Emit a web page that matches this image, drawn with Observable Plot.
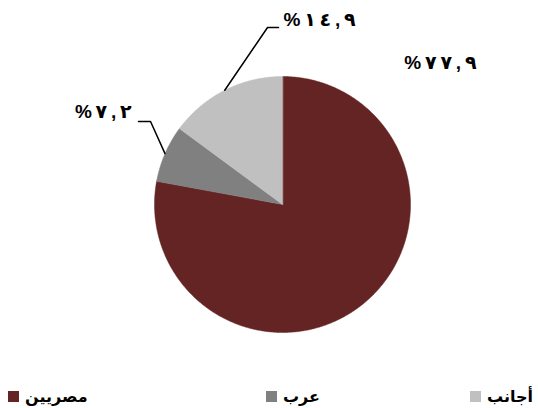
<!DOCTYPE html>
<html>
<head>
<meta charset="utf-8">
<script src="https://cdn.jsdelivr.net/npm/d3@7"></script>
<script src="https://cdn.jsdelivr.net/npm/@observablehq/plot@0.6"></script>
<style>
  html, body { margin: 0; padding: 0; background: #fff; }
  #wrap { position: relative; width: 538px; height: 408px; overflow: hidden; font-family: "Liberation Sans", "DejaVu Sans", Arial, sans-serif; }
  #legend .item { position: absolute; top: 386px; height: 20px; display: flex; align-items: center; font-weight: bold; font-size: 16px; color: #000; font-family: "DejaVu Sans", sans-serif; }
  #legend .sw { width: 11px; height: 11px; margin-right: 6px; }
</style>
</head>
<body>
<div id="wrap"><div id="chart"></div><div id="legend"></div></div>
<script>
const categories = ["مصريين", "عرب", "أجانب"];
const values = [77.9, 7.2, 14.9];
const valueLabels = ["%٧٧,٩", "%٧,٢", "%١٤,٩"];
const colors = ["#632423", "#808080", "#C0C0C0"];

// label layout (data units of the unit circle): label centre, leader elbow, leader end
const labelLayout = [
  {lx: 1.234, ly: 1.11, leader: false},
  {lx: -1.40, ly: 0.72, leader: true, ex: -1.031, ey: 0.648, tx: -1.125},
  {lx: 0.29, ly: 1.445, leader: true, ex: -0.117, ey: 1.383, tx: -0.031}
];

// spaced-out, left-to-right forced display of the label string
const spaced = s => "\u202D" + Array.from(s).join("\u2009") + "\u202C";

const arcs = d3.pie().sort(null).value(d => d)(values);

const slicePts = [];
arcs.forEach((a, i) => {
  slicePts.push({cat: categories[i], x: 0, y: 0});
  const n = Math.max(2, Math.ceil((a.endAngle - a.startAngle) / (Math.PI / 360)));
  for (let k = 0; k <= n; k++) {
    const t = a.startAngle + (a.endAngle - a.startAngle) * k / n;
    slicePts.push({cat: categories[i], x: Math.sin(t), y: Math.cos(t)});
  }
});

const labelData = arcs.map((a, i) => ({cat: categories[i], text: spaced(valueLabels[i]), x: labelLayout[i].lx, y: labelLayout[i].ly}));

const leaderPts = [];
arcs.forEach((a, i) => {
  const L = labelLayout[i];
  if (!L.leader) return;
  const m = (a.startAngle + a.endAngle) / 2;
  leaderPts.push({cat: categories[i], x: Math.sin(m), y: Math.cos(m)});
  leaderPts.push({cat: categories[i], x: L.ex, y: L.ey});
  leaderPts.push({cat: categories[i], x: L.tx, y: L.ey});
});

const chart = Plot.plot({
  width: 538,
  height: 380,
  margin: 0,
  x: {domain: [-1, 1], range: [154, 410], axis: null},
  y: {domain: [-1, 1], range: [332, 76], axis: null},
  color: {domain: categories, range: colors},
  style: {fontFamily: '"Liberation Sans", "DejaVu Sans", Arial, sans-serif', background: "#fff"},
  marks: [
    Plot.line(slicePts, {x: "x", y: "y", z: "cat", fill: "cat", stroke: "cat", strokeWidth: 0.5, curve: "linear-closed"}),
    Plot.line(leaderPts, {x: "x", y: "y", z: "cat", stroke: "#000", strokeWidth: 1.5}),
    Plot.text(labelData, {x: "x", y: "y", text: "text", fontSize: 19, fontWeight: "bold", fill: "#000"})
  ]
});
document.getElementById("chart").appendChild(chart);

const legendLeft = [8, 266, 470];
const legend = document.getElementById("legend");
categories.forEach((c, i) => {
  const it = document.createElement("div");
  it.className = "item";
  it.style.left = legendLeft[i] + "px";
  const sw = document.createElement("span");
  sw.className = "sw";
  sw.style.background = colors[i];
  const tx = document.createElement("span");
  tx.textContent = c;
  tx.dir = "rtl";
  it.appendChild(sw);
  it.appendChild(tx);
  legend.appendChild(it);
});
</script>
</body>
</html>
